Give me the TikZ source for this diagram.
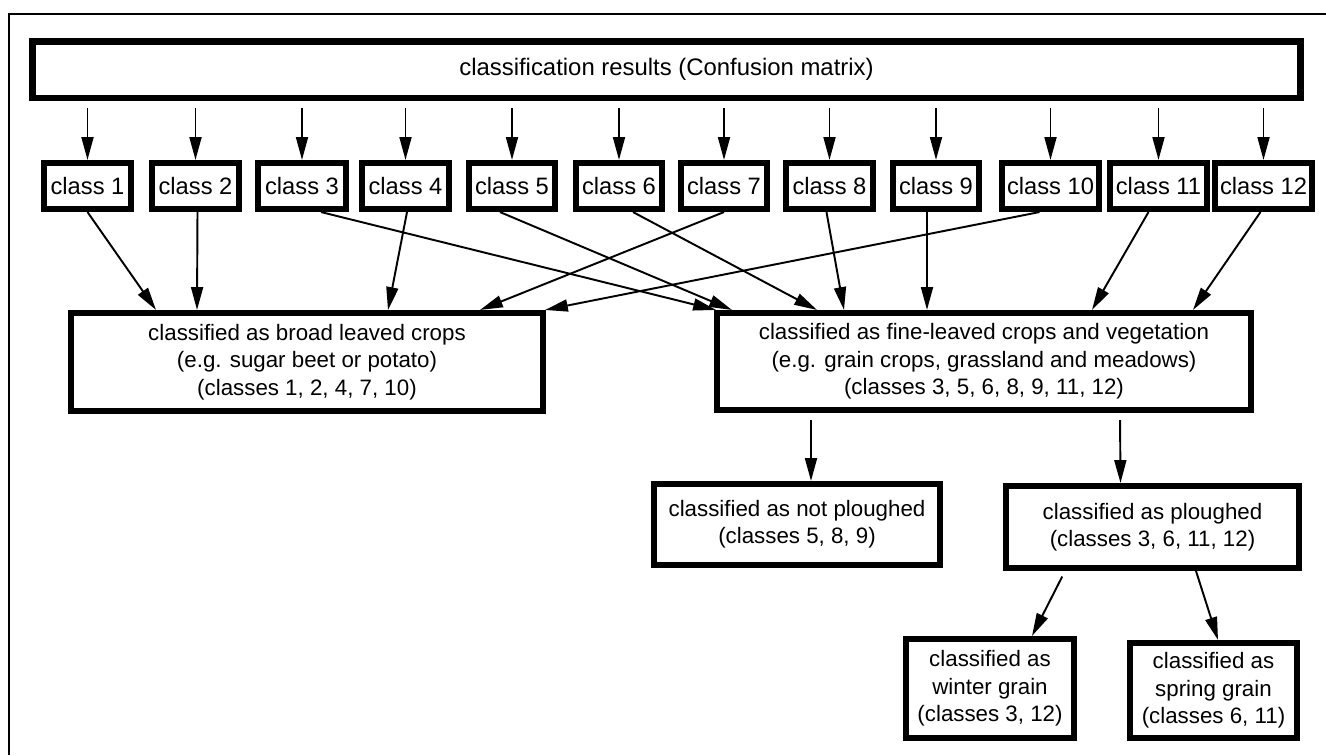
\documentclass[tikz,border=0pt]{standalone}
\usepackage{fontspec}
\setmainfont{Liberation Sans}
\usetikzlibrary{arrows.meta,calc}

\begin{document}
\begin{tikzpicture}[x=0.02cm,y=-0.02cm,
		kasten/.style={draw, line width=3.2pt, align=center, inner sep=0pt,
			font=\fontsize{12.7}{15.6}\selectfont},
		klasse/.style={kasten, minimum height=0.93cm, font=\fontsize{13.5}{16}\selectfont},
		pfeil/.style={-{Triangle[length=13pt,width=6.8pt]}, line width=1.1pt}]
		\useasboundingbox (0,0) rectangle (1326,755);

		% zeichne Rahmen
		\draw[line width=1.2pt] (9,755) -- (9,14) -- (1326,14);

		% zeichne Kaesten
		\node[kasten, line width=3.7pt, minimum width=25.37cm, minimum height=1.13cm,
			font=\fontsize{13.6}{16}\selectfont] (ergebnis) at (666.5,69.5) {classification results (Confusion matrix)};
		\foreach \n/\x/\w in {1/87.5/1.75, 2/195.5/1.75, 3/302/1.77, 4/405.5/1.75,
			5/512/1.73, 6/619/1.73, 7/724/1.73, 8/829.5/1.75, 9/936/1.73,
			10/1050.5/1.95, 11/1158.5/1.95, 12/1263.5/1.95}
			\node[klasse, minimum width=\w cm] (k\n) at (\x,186) {class \n};
		\node[kasten, minimum width=9.45cm, minimum height=1.97cm] (breit) at (307,362)
			{classified as broad leaved crops\\(e.g. sugar beet or potato)\\(classes 1, 2, 4, 7, 10)};
		\node[kasten, minimum width=10.69cm, minimum height=1.95cm] (fein) at (984,361.5)
			{classified as fine-leaved crops and vegetation\\(e.g. grain crops, grassland and meadows)\\(classes 3, 5, 6, 8, 9, 11, 12)};
		\node[kasten, minimum width=5.73cm, minimum height=1.63cm] (nicht) at (797,524.5)
			{classified as not ploughed\\(classes 5, 8, 9)};
		\node[kasten, minimum width=5.87cm, minimum height=1.65cm] (gepfl) at (1152.5,527)
			{classified as ploughed\\(classes 3, 6, 11, 12)};
		\node[kasten, minimum width=3.37cm, minimum height=1.99cm] (winter) at (990,688.5)
			{classified as\\winter grain\\(classes 3, 12)};
		\node[kasten, minimum width=3.35cm, minimum height=1.91cm] (sommer) at (1213.5,690.5)
			{classified as\\spring grain\\(classes 6, 11)};

		% Pfeile zu den Klassen
		\foreach \n in {1,...,12}
			\draw[pfeil, shorten <=4pt] (k\n |- ergebnis.south) -- (k\n.north);

		% Pfeile zu den Gruppen
		\draw[pfeil] (k1.south) -- ($(breit.north)+(-151,0)$);
		\draw[pfeil] ($(k2.south)+(2,0)$) -- ($(breit.north)+(-110,0)$);
		\draw[pfeil] ($(k4.south)+(1.5,0)$) -- ($(breit.north)+(81,0)$);
		\draw[pfeil] (k7.south) -- ($(breit.north)+(173,0)$);
		\draw[pfeil] ($(k10.south)+(-11,0)$) -- ($(breit.north)+(238,0)$);
		\draw[pfeil] ($(k3.south)+(19,0)$) -- ($(fein.north)+(-268,0)$);
		\draw[pfeil] ($(k5.south)+(-12,0)$) -- ($(fein.north)+(-252,0)$);
		\draw[pfeil] ($(k6.south)+(14,0)$) -- ($(fein.north)+(-167,0)$);
		\draw[pfeil] ($(k8.south)+(-3,0)$) -- ($(fein.north)+(-140,0)$);
		\draw[pfeil] ($(k9.south)+(-9,0)$) -- ($(fein.north)+(-57,0)$);
		\draw[pfeil] ($(k11.south)+(-10,0)$) -- ($(fein.north)+(108,0)$);
		\draw[pfeil] ($(k12.south)+(-3,0)$) -- ($(fein.north)+(209,0)$);

		% Pfeile nach unten
		\draw[pfeil, shorten <=4pt] ($(fein.south)+(-173,0)$) -- ($(nicht.north)+(14,0)$);
		\draw[pfeil, shorten <=4pt] ($(fein.south)+(136,0)$) -- ($(gepfl.north)+(-32,0)$);
		\draw[pfeil, shorten <=3.5pt] ($(gepfl.south)+(-87.5,0)$) -- ($(winter.north)+(42,0)$);
		\draw[pfeil] ($(gepfl.south)+(43.5,0)$) -- ($(sommer.north)+(4.5,0)$);
	\end{tikzpicture}
\end{document}
